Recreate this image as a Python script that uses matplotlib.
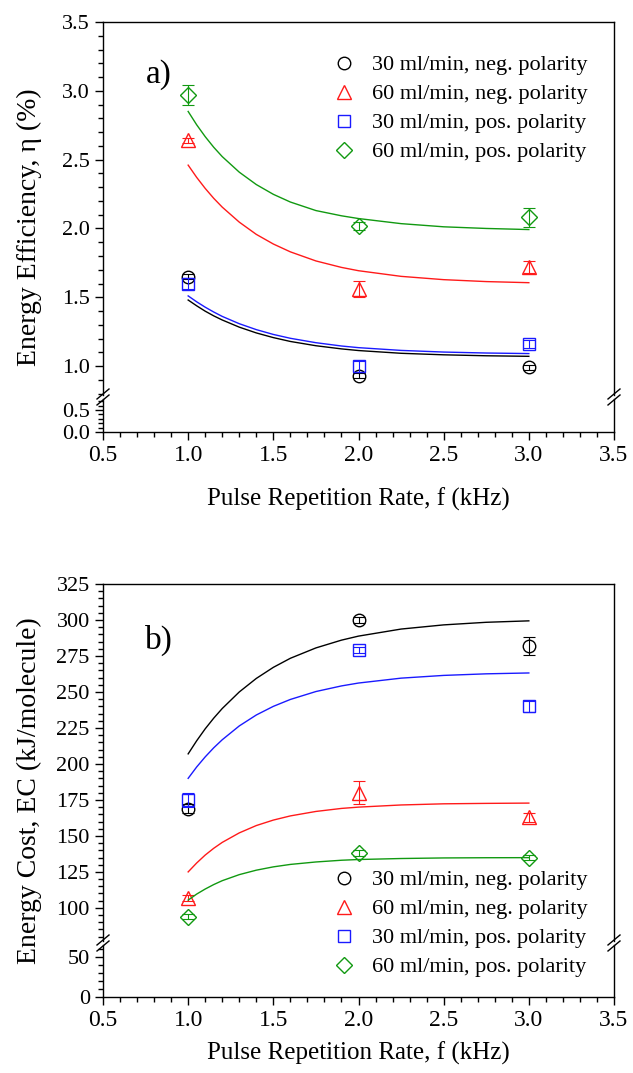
import matplotlib.pyplot as plt
from matplotlib.ticker import MultipleLocator
from matplotlib.lines import Line2D

plt.rcParams['font.family'] = 'Liberation Serif'
plt.rcParams['mathtext.fontset'] = 'stix'

W, H = 633, 1073

freq = [1.0, 2.0, 3.0]
series = ['30 ml/min, neg. polarity', '60 ml/min, neg. polarity',
          '30 ml/min, pos. polarity', '60 ml/min, pos. polarity']
colors = ['black', '#ff1a1a', '#1a1aff', '#119911']
markers = ['o', '^', 's', 'D']
msizes = [9, 10, 8, 8]

# panel a: energy efficiency (%)
eff_mean = [[1.65, 0.93, 0.99], [2.64, 1.56, 1.72],
            [1.60, 1.00, 1.16], [2.97, 2.02, 2.08]]
eff_err = [[0.02, 0.02, 0.02], [0.02, 0.06, 0.04],
           [0.04, 0.04, 0.03], [0.07, 0.03, 0.07]]

# panel b: energy cost (kJ/molecule)
ec_mean = [[169, 300, 282], [107, 180, 163],
           [175, 279, 240], [94, 138, 135]]
ec_err = [[3, 2, 6], [2, 8, 3], [5, 2, 4], [2, 2, 2]]

# fitted curves
fit_x = [1.0, 1.05, 1.1, 1.15, 1.2, 1.3, 1.4, 1.5, 1.6, 1.75, 1.9, 2.0,
         2.25, 2.5, 2.75, 3.0]
eff_fit = [
    [1.48, 1.438, 1.399, 1.365, 1.335, 1.283, 1.241, 1.207, 1.179, 1.148,
     1.125, 1.113, 1.093, 1.082, 1.075, 1.071],
    [2.46, 2.371, 2.291, 2.219, 2.155, 2.046, 1.957, 1.887, 1.830, 1.764,
     1.717, 1.693, 1.652, 1.628, 1.614, 1.606],
    [1.51, 1.467, 1.428, 1.393, 1.361, 1.308, 1.265, 1.230, 1.202, 1.170,
     1.146, 1.134, 1.114, 1.102, 1.095, 1.091],
    [2.85, 2.753, 2.667, 2.590, 2.522, 2.409, 2.319, 2.248, 2.192, 2.130,
     2.092, 2.072, 2.035, 2.012, 2.000, 1.992],
]
ec_fit = [
    [207, 216.1, 224.4, 231.8, 238.5, 250.0, 259.4, 267.1, 273.4, 280.6,
     286.0, 288.8, 293.7, 296.6, 298.4, 299.4],
    [125, 131.2, 136.7, 141.4, 145.5, 152.1, 157.2, 161.0, 163.9, 167.0,
     169.1, 170.0, 171.5, 172.3, 172.6, 172.8],
    [190, 197.9, 204.9, 211.2, 216.8, 226.4, 234.0, 240.0, 244.8, 250.3,
     254.2, 256.2, 259.6, 261.5, 262.6, 263.2],
    [105.4, 109.6, 113.1, 116.2, 118.9, 123.1, 126.2, 128.5, 130.2, 131.9,
     133.1, 133.6, 134.3, 134.7, 134.85, 134.9],
]

fig = plt.figure(figsize=(W / 100, H / 100), dpi=100)

X0, X1 = 103, 614


def rect(top, bottom):
    return [X0 / W, 1 - bottom / H, (X1 - X0) / W, (bottom - top) / H]


def draw_panel(top, brk_hi, brk_lo, bottom, ylim_hi, ylim_lo, maj_hi, min_hi,
               maj_lo, min_lo, means, errs, fits, fmt, letter, letter_y,
               ylabel, legend_top, xlabel_y):
    ax_hi = fig.add_axes(rect(top, brk_hi))
    ax_lo = fig.add_axes(rect(brk_lo, bottom))
    for ax in (ax_hi, ax_lo):
        for i in range(4):
            ax.plot(fit_x, fits[i], color=colors[i], lw=1.0)
            ax.errorbar(freq, means[i], yerr=errs[i], fmt='none',
                        ecolor=colors[i], elinewidth=0.8, capsize=4,
                        capthick=0.8)
            ax.plot(freq, means[i], ls='none', marker=markers[i],
                    ms=msizes[i], mfc='none', mec=colors[i], mew=1.0,
                    label=series[i])
        ax.set_xlim(0.5, 3.5)
        ax.xaxis.set_major_locator(MultipleLocator(0.5))
        ax.xaxis.set_minor_locator(MultipleLocator(0.1))
        ax.tick_params(which='both', direction='out', right=False, top=False,
                       width=1.0)
        ax.tick_params(which='major', length=6)
        ax.tick_params(which='minor', length=3.5)
        ax.tick_params(axis='y', labelsize=16)
        ax.tick_params(axis='x', labelsize=17)
        ax.yaxis.set_major_formatter(plt.FormatStrFormatter(fmt))
        ax.xaxis.set_major_formatter(plt.FormatStrFormatter('%.1f'))
        for s in ax.spines.values():
            s.set_linewidth(1.0)
    ax_hi.set_ylim(*ylim_hi)
    ax_lo.set_ylim(*ylim_lo)
    ax_hi.yaxis.set_major_locator(MultipleLocator(maj_hi))
    ax_hi.yaxis.set_minor_locator(MultipleLocator(min_hi))
    ax_lo.yaxis.set_major_locator(MultipleLocator(maj_lo))
    ax_lo.yaxis.set_minor_locator(MultipleLocator(min_lo))
    ax_hi.spines['bottom'].set_visible(False)
    ax_hi.tick_params(axis='x', which='both', bottom=False, labelbottom=False)
    ax_lo.spines['top'].set_visible(False)

    # break marks
    yb = (brk_hi + brk_lo) / 2
    for xp in (X0, X1):
        for dy in (-3, 3):
            fig.add_artist(Line2D([(xp - 6) / W, (xp + 6) / W],
                                  [1 - (yb + dy + 5) / H, 1 - (yb + dy - 5) / H],
                                  color='black', lw=1.0))

    ax_hi.text(0.83, letter_y, letter, fontsize=24, va='center', ha='center')
    handles, labels = ax_hi.get_legend_handles_labels()
    fig.legend(handles, labels, loc='upper right',
               bbox_to_anchor=(597 / W, 1 - legend_top / H),
               bbox_transform=fig.transFigure, frameon=False,
               fontsize=16, handlelength=1.0, handletextpad=0.8,
               labelspacing=0.38, borderaxespad=0)
    fig.text(29 / W, 1 - ((top + bottom) / 2) / H, ylabel, rotation=90,
             fontsize=20, ha='center', va='center')
    fig.text((X0 + X1) / 2 / W, 1 - xlabel_y / H,
             'Pulse Repetition Rate, f (kHz)', fontsize=18, ha='center',
             va='center')
    return ax_hi, ax_lo


draw_panel(22, 395, 399, 432, (0.79, 3.5), (0.0, 0.75), 0.5, 0.1, 0.5, 0.1,
           eff_mean, eff_err, eff_fit, '%.1f', 'a)', 3.12,
           'Energy Efficiency, η (%)', 46, 499)
draw_panel(584, 941, 945, 997, (77, 325), (0, 65), 25, 5, 50, 10,
           ec_mean, ec_err, ec_fit, '%d', 'b)', 286,
           'Energy Cost, EC (kJ/molecule)', 861, 1053)

fig.savefig('out.png', dpi=100)
